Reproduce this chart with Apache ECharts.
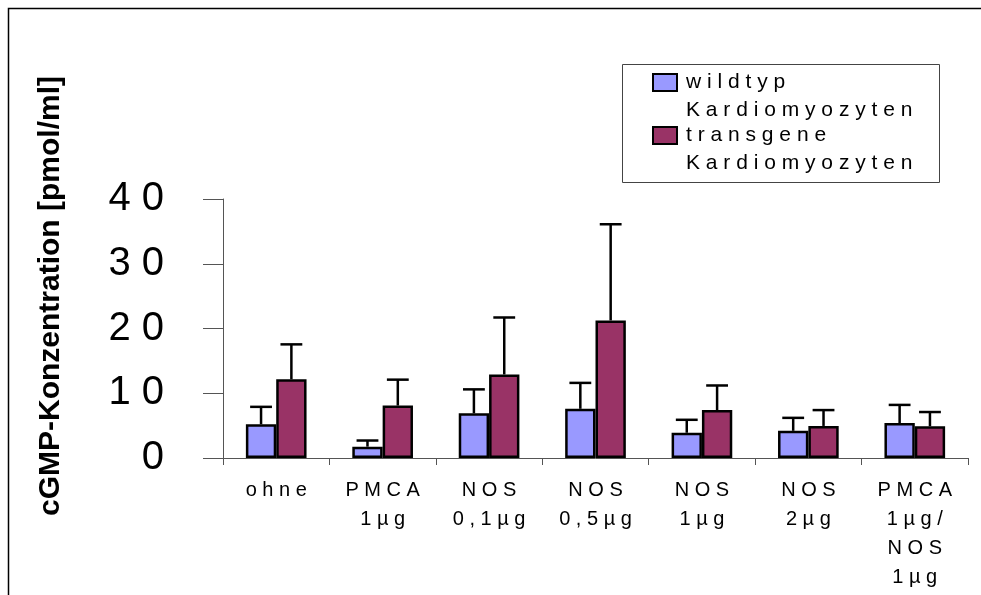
<!DOCTYPE html>
<html><head><meta charset="utf-8">
<script src="https://cdn.jsdelivr.net/npm/echarts@6/dist/echarts.min.js"></script>
<style>html,body{margin:0;padding:0;background:#fff}#c{width:981px;height:595px}</style>
</head><body><div id="c"></div>
<script>
const categories = ['ohne', 'PMCA\n1µg', 'NOS\n0,1µg', 'NOS\n0,5µg', 'NOS\n1µg', 'NOS\n2µg', 'PMCA\n1µg/\nNOS\n1µg'];
const seriesNames = ['wildtyp Kardiomyozyten', 'transgene Kardiomyozyten'];
const wildtypMean = [5.2, 1.75, 6.9, 7.6, 3.9, 4.2, 5.4];
const wildtypSD = [2.7, 0.95, 3.7, 4.0, 2.0, 2.0, 2.8];
const transgenMean = [12.15, 8.1, 12.9, 21.25, 7.4, 4.95, 4.9];
const transgenSD = [5.4, 4.0, 8.8, 14.85, 3.8, 2.45, 2.2];
const yAxisName = 'cGMP-Konzentration [pmol/ml]';
const yMin = 0, yMax = 40, yStep = 10;

const colors = ['#9999FF', '#993366'];
const FONT = '"Liberation Sans", Arial, sans-serif';
const GAP = 0.43;
function spaced(s) { return s.split('\n').map(l => l.split('').join(' ')).join('\n'); }

function errorSeries(means, sds, idx) {
  return {
    type: 'custom', name: seriesNames[idx] + ' SD', silent: true, z: 3,
    data: means.map((m, i) => [i, m, m + sds[i]]),
    encode: { x: 0, y: [1, 2] },
    renderItem(params, api) {
      const i = api.value(0);
      const band = api.size([1, 0])[0];
      const barW = band * (1 - GAP) / 2;
      const off = (idx === 0 ? -1 : 1) * barW / 2;
      const base = api.coord([i, api.value(1)]);
      const top = api.coord([i, api.value(2)]);
      const x = base[0] + off;
      const half = barW * 0.36;
      return { type: 'group', children: [
        { type: 'line', shape: { x1: x, y1: base[1], x2: x, y2: top[1] }, style: { stroke: '#000', lineWidth: 2.5 } },
        { type: 'line', shape: { x1: x - half, y1: top[1], x2: x + half, y2: top[1] }, style: { stroke: '#000', lineWidth: 2.5 } }
      ] };
    }
  };
}

const chart = echarts.init(document.getElementById('c'), null, { renderer: 'canvas' });
const legendLines = seriesNames.map(n => n.split(' '));
chart.setOption({
  animation: false,
  backgroundColor: '#fff',
  textStyle: { fontFamily: FONT },
  grid: { left: 223, right: 13, top: 199, bottom: 137, containLabel: false },
  xAxis: {
    type: 'category', data: categories,
    axisLine: { lineStyle: { color: '#555', width: 1 } },
    axisTick: { show: true, length: 7, lineStyle: { color: '#555' } },
    axisLabel: { interval: 0, color: '#000', fontSize: 20, lineHeight: 29, margin: 18, fontFamily: FONT, formatter: v => spaced(v) },
    splitLine: { show: false }
  },
  yAxis: {
    type: 'value', min: yMin, max: yMax, interval: yStep,
    axisLine: { show: true, lineStyle: { color: '#555', width: 1 } },
    axisTick: { show: true, length: 20, lineStyle: { color: '#555' } },
    axisLabel: { color: '#000', fontSize: 40, margin: 59, fontFamily: FONT, formatter: v => spaced(String(v)) },
    splitLine: { show: false }
  },
  series: [
    { type: 'bar', name: seriesNames[0], data: wildtypMean, barGap: '0%', barCategoryGap: (GAP * 100) + '%',
      itemStyle: { color: colors[0], borderColor: '#000', borderWidth: 2.5 } },
    { type: 'bar', name: seriesNames[1], data: transgenMean, barGap: '0%', barCategoryGap: (GAP * 100) + '%',
      itemStyle: { color: colors[1], borderColor: '#000', borderWidth: 2.5 } },
    errorSeries(wildtypMean, wildtypSD, 0),
    errorSeries(transgenMean, transgenSD, 1)
  ],
  graphic: [
    { type: 'rect', silent: true, shape: { x: 8.5, y: 8.5, width: 2000, height: 2000 }, style: { fill: 'none', stroke: '#000', lineWidth: 1.5 } },
    { type: 'text', silent: true, x: 51, y: 296, rotation: Math.PI / 2,
      style: { text: yAxisName, font: 'bold 30px ' + FONT, fill: '#000', align: 'center', verticalAlign: 'middle' } },
    { type: 'rect', silent: true, shape: { x: 622.5, y: 64.5, width: 317, height: 118 }, style: { fill: '#fff', stroke: '#444', lineWidth: 1 } },
    { type: 'rect', silent: true, shape: { x: 653, y: 74, width: 24, height: 17 }, style: { fill: colors[0], stroke: '#000', lineWidth: 2 } },
    { type: 'rect', silent: true, shape: { x: 653, y: 127, width: 24, height: 17 }, style: { fill: colors[1], stroke: '#000', lineWidth: 2 } },
    { type: 'text', silent: true, x: 686, y: 82.5, style: { text: spaced(legendLines[0][0]), font: '21px ' + FONT, fill: '#000', verticalAlign: 'middle' } },
    { type: 'text', silent: true, x: 686, y: 110.5, style: { text: spaced(legendLines[0][1]), font: '21px ' + FONT, fill: '#000', verticalAlign: 'middle' } },
    { type: 'text', silent: true, x: 686, y: 135, style: { text: spaced(legendLines[1][0]), font: '21px ' + FONT, fill: '#000', verticalAlign: 'middle' } },
    { type: 'text', silent: true, x: 686, y: 163, style: { text: spaced(legendLines[1][1]), font: '21px ' + FONT, fill: '#000', verticalAlign: 'middle' } }
  ]
});
</script></body></html>
